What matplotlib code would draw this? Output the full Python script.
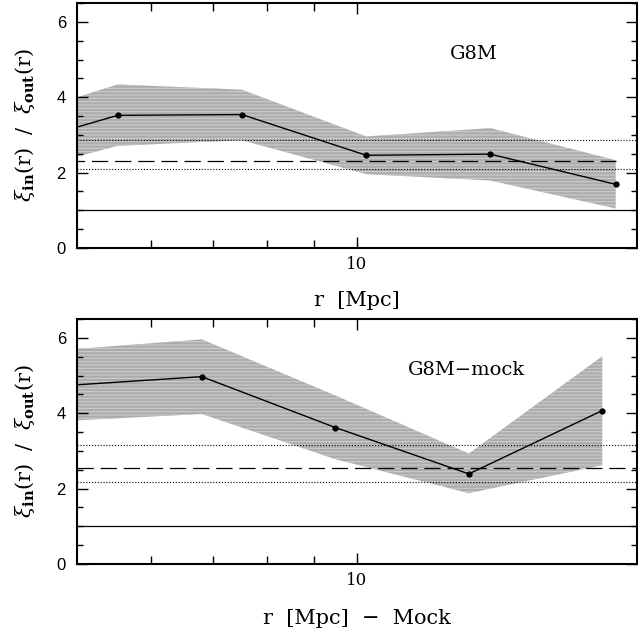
import numpy as np
import matplotlib
matplotlib.use("Agg")
import matplotlib.pyplot as plt
from matplotlib.ticker import NullFormatter, FixedLocator, FixedFormatter, MultipleLocator

# G8M: ratio of in/out correlation functions and its 1-sigma band
r_g8m = [4.06, 5.53, 7.52, 10.23, 13.91, 18.97]
ratio_g8m = [2.56, 3.52, 3.54, 2.46, 2.49, 1.69]
upper_g8m = [3.29, 4.34, 4.20, 2.96, 3.18, 2.33]
lower_g8m = [1.84, 2.71, 2.86, 1.96, 1.79, 1.05]
mean_g8m = 2.31
dotted_g8m = [2.87, 2.10]

# G8M mock
r_mock = [4.90, 6.81, 9.48, 13.19, 18.35]
ratio_mock = [4.74, 4.97, 3.62, 2.39, 4.07]
upper_mock = [5.69, 5.96, 4.47, 2.93, 5.51]
lower_mock = [3.80, 3.98, 2.78, 1.88, 2.62]
mean_mock = 2.54
dotted_mock = [3.15, 2.17]

plt.rcParams['hatch.linewidth'] = 0.8
plt.rcParams['mathtext.fontset'] = 'dejavuserif'
serif = 'DejaVu Serif'

fig = plt.figure(figsize=(6.38, 6.35), dpi=100)
ax1 = fig.add_axes([77/638, 1-248/635, 560/638, 245/635])
ax2 = fig.add_axes([77/638, 1-564/635, 560/638, 245/635])


def panel(ax, r, ratio, up, lo, mean, dots, name, xlabel, dash_full):
    # hatch density: each '-' gives 6 lines per inch
    ax.fill_between(r, lo, up, facecolor='#acacac', edgecolor='#cdcdcd',
                    hatch='-----', linewidth=0, zorder=1)
    ax.plot(r, ratio, color='black', lw=1.0, marker='o', ms=3.5, zorder=3)
    ax.axhline(1.0, color='black', lw=0.9, zorder=2)
    if dash_full:
        ax.axhline(mean, color='black', lw=0.9, ls=(0, (13, 5.5)), zorder=2)
    else:
        ax.plot([r[0], r[-1]], [mean, mean], color='black', lw=0.9,
                ls=(0, (13, 5.5)), zorder=2)
    for d in dots:
        ax.axhline(d, color='black', lw=0.8, ls=(0, (1, 1.6)), zorder=2)

    ax.set_xscale('log')
    ax.set_xlim(5, 20)
    ax.set_ylim(0, 6.5)
    ax.xaxis.set_major_locator(FixedLocator([10]))
    ax.xaxis.set_minor_locator(FixedLocator([6, 7, 8, 9]))
    ax.xaxis.set_major_formatter(FixedFormatter(['10']))
    ax.xaxis.set_minor_formatter(NullFormatter())
    ax.yaxis.set_major_locator(MultipleLocator(2))
    ax.yaxis.set_minor_locator(MultipleLocator(0.5))

    ax.tick_params(which='both', direction='in', top=True, right=True, width=1.0)
    ax.tick_params(axis='x', which='major', length=8, pad=6)
    ax.tick_params(axis='x', which='minor', length=6)
    ax.tick_params(axis='y', which='major', length=8, pad=8, labelsize=12)
    ax.tick_params(axis='y', which='minor', length=4.3)
    for lab in ax.get_xticklabels():
        lab.set_fontfamily(serif)
        lab.set_fontsize(12)
    for lab in ax.get_yticklabels():
        lab.set_fontfamily('Liberation Sans')
    for s in ax.spines.values():
        s.set_linewidth(1.5)

    ax.set_ylabel(r'$\xi_{\mathbf{in}}(\mathrm{r})$  /  $\xi_{\mathbf{out}}(\mathrm{r})$',
                  fontsize=15, family=serif)
    ax.yaxis.set_label_coords(-0.072, 0.5)
    ax.set_xlabel(xlabel, fontsize=15, family=serif)
    ax.text(name[1], name[2], name[0], fontsize=14, family=serif,
            ha='center', va='center', transform=ax.transAxes)


panel(ax1, r_g8m, ratio_g8m, upper_g8m, lower_g8m, mean_g8m, dotted_g8m,
      ('G8M', 0.708, 0.79), 'r  [Mpc]', False)
panel(ax2, r_mock, ratio_mock, upper_mock, lower_mock, mean_mock, dotted_mock,
      ('G8M\u2212mock', 0.696, 0.79), 'r  [Mpc]  \u2212  Mock', True)
ax1.xaxis.set_label_coords(0.50, -0.175)
ax2.xaxis.set_label_coords(0.50, -0.185)

fig.savefig('out.png', dpi=100)
